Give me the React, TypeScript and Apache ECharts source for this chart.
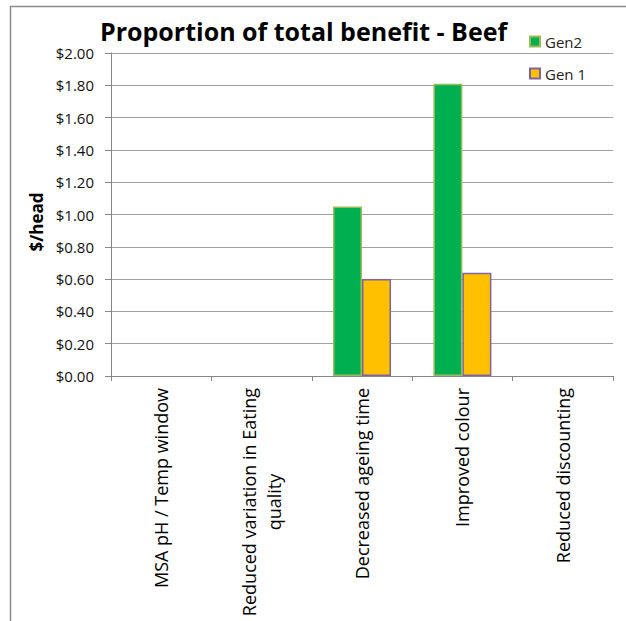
import React, { useEffect, useRef } from "react";
import * as echarts from "echarts";

const categories = [
  "MSA pH / Temp window",
  "Reduced variation in Eating\nquality",
  "Decreased ageing time",
  "Improved colour",
  "Reduced discounting",
];
const gen2Values = [0, 0, 1.05, 1.81, 0];
const gen1Values = [0, 0, 0.6, 0.64, 0];
const yTicks = { min: 0, max: 2, interval: 0.2 };
const titleText = "Proportion of total benefit - Beef";
const yAxisTitle = "$/head";

const FONT = "'Open Sans', sans-serif";

const toItems = (vals: number[]) =>
  vals.map((v) => (v === 0 ? { value: v, itemStyle: { borderWidth: 0, opacity: 0 } } : v));

export default function App() {
  const ref = useRef<HTMLDivElement>(null);
  useEffect(() => {
    document.body.style.margin = "0";
    const chart = echarts.init(ref.current!, null, { renderer: "svg" });
    chart.setOption({
      animation: false,
      backgroundColor: "#ffffff",
      textStyle: { fontFamily: FONT },
      title: {
        text: titleText,
        left: 95,
        top: 13,
        textStyle: { fontSize: 25, fontWeight: "bold", color: "#000", fontFamily: FONT },
      },
      legend: {
        orient: "vertical",
        left: 524,
        top: 29,
        itemWidth: 10,
        itemHeight: 10,
        itemGap: 17,
        icon: "rect",
        textStyle: { fontSize: 15, color: "#222", fontFamily: FONT },
        data: ["Gen2", "Gen 1"],
      },
      grid: { left: 111, right: 13, top: 53, bottom: 245, containLabel: false },
      xAxis: {
        type: "category",
        data: categories,
        axisLine: { lineStyle: { color: "#868686", width: 1 } },
        axisTick: { show: true, length: 5, lineStyle: { color: "#868686" } },
        axisLabel: {
          rotate: 90,
          margin: 12,
          interval: 0,
          color: "#000",
          fontSize: 18,
          fontFamily: FONT,
          lineHeight: 25,
          formatter: (v: string) => {
            const parts = v.split("\n");
            if (parts.length === 1) return v;
            return `{a|${parts[0]}}\n{b|${parts[1]}}`;
          },
          rich: {
            a: { fontSize: 18, fontFamily: FONT, color: "#000", lineHeight: 25 },
            b: { fontSize: 18, fontFamily: FONT, color: "#000", lineHeight: 25, align: "center" },
          },
        },
      },
      yAxis: {
        type: "value",
        min: yTicks.min,
        max: yTicks.max,
        interval: yTicks.interval,
        axisLine: { show: true, lineStyle: { color: "#868686" } },
        axisTick: { show: true, length: 6, lineStyle: { color: "#868686" } },
        axisLabel: {
          color: "#111",
          fontSize: 15,
          fontFamily: FONT,
          margin: 17,
          formatter: (v: number) => `$${v.toFixed(2)}`,
        },
        splitLine: { lineStyle: { color: "#a0a0a0", width: 1 } },
      },
      graphic: [
        {
          type: "rect",
          shape: { x: 10.5, y: 6.5, width: 800, height: 800 },
          style: { fill: "none", stroke: "#8c8c8c", lineWidth: 1.5 },
          silent: true,
        },
        {
          type: "text",
          x: 36,
          y: 222,
          rotation: Math.PI / 2,
          style: {
            text: yAxisTitle,
            fontSize: 17,
            fontWeight: "bold",
            fontFamily: FONT,
            fill: "#000",
            align: "center",
            verticalAlign: "middle",
          },
        },
      ],
      series: [
        {
          name: "Gen2",
          type: "bar",
          data: toItems(gen2Values),
          barWidth: 29,
          barGap: "0%",
          itemStyle: { color: "#00B050", borderColor: "#9BBB59", borderWidth: 1.5 },
        },
        {
          name: "Gen 1",
          type: "bar",
          data: toItems(gen1Values),
          barWidth: 29,
          barGap: "0%",
          itemStyle: { color: "#FFC000", borderColor: "#8064A2", borderWidth: 1.5 },
        },
      ],
    });
    return () => chart.dispose();
  }, []);
  return <div ref={ref} style={{ width: 626, height: 621 }} />;
}
